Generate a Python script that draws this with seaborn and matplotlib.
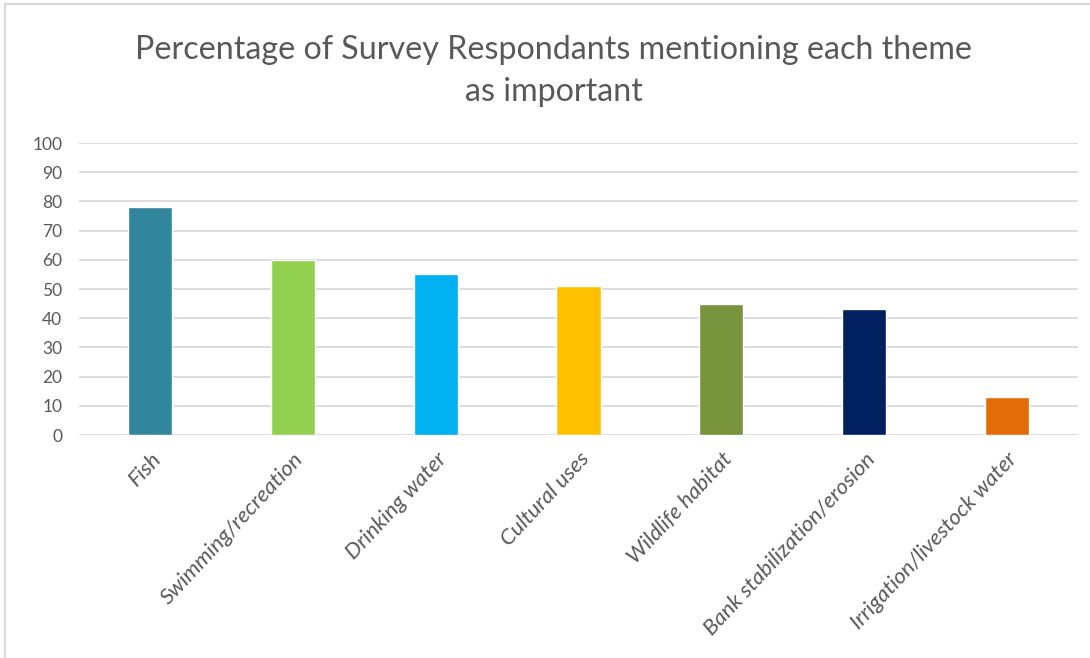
import matplotlib
matplotlib.use("Agg")
import matplotlib.pyplot as plt
from matplotlib.patches import Rectangle
import seaborn as sns
import pandas as pd

themes = ["Fish", "Swimming/recreation", "Drinking water", "Cultural uses",
          "Wildlife habitat", "Bank stabilization/erosion", "Irrigation/livestock water"]
percent = [78, 60, 55, 51, 45, 43, 13]
bar_colors = ["#31859C", "#92D050", "#00B0F0", "#FFC000", "#77933C", "#002060", "#E36C09"]
y_ticks = [0, 10, 20, 30, 40, 50, 60, 70, 80, 90, 100]
title = "Percentage of Survey Respondants mentioning each theme\nas important"

sns.set_theme(style="white")
plt.rcParams["font.family"] = ["Lato", "DejaVu Sans"]

df = pd.DataFrame({"theme": themes, "percent": percent})

fig = plt.figure(figsize=(10.9, 6.58), dpi=100)
ax = fig.add_axes([79 / 1090, 1 - 435 / 658, (1078 - 79) / 1090, (435 - 143) / 658])

sns.barplot(data=df, x="theme", y="percent", hue="theme", palette=bar_colors,
            width=0.31, legend=False, ax=ax, saturation=1, zorder=3)

ax.set_ylim(0, 100)
ax.set_xlim(-0.5, len(themes) - 0.5)
ax.set_yticks(y_ticks)
ax.yaxis.grid(True, color="#D9D9D9", linewidth=1.3, zorder=0)
ax.set_axisbelow(True)
for s in ax.spines.values():
    s.set_visible(False)
ax.set_xlabel("")
ax.set_ylabel("")
ax.tick_params(axis="y", length=0, pad=12, labelsize=12.5, labelcolor="#595959")
ax.tick_params(axis="x", length=0, pad=10, labelsize=16, labelcolor="#595959")
for lab in ax.get_yticklabels():
    lab.set_horizontalalignment("right")
for lab in ax.get_xticklabels():
    lab.set_rotation(47)
    lab.set_ha("right")
    lab.set_rotation_mode("anchor")
    lab.set_style("italic")

fig.text(0.508, 1 - 71 / 658, title, ha="center", va="center", fontsize=23.2,
         color="#595959", linespacing=1.5)

# Outer chart frame
fig.patches.append(Rectangle((5 / 1090, -0.1), 1.2, 1 - 4 / 658 + 0.1,
                             transform=fig.transFigure, fill=False,
                             edgecolor="#D9D9D9", linewidth=1.5))

fig.savefig("out.png", dpi=100)
